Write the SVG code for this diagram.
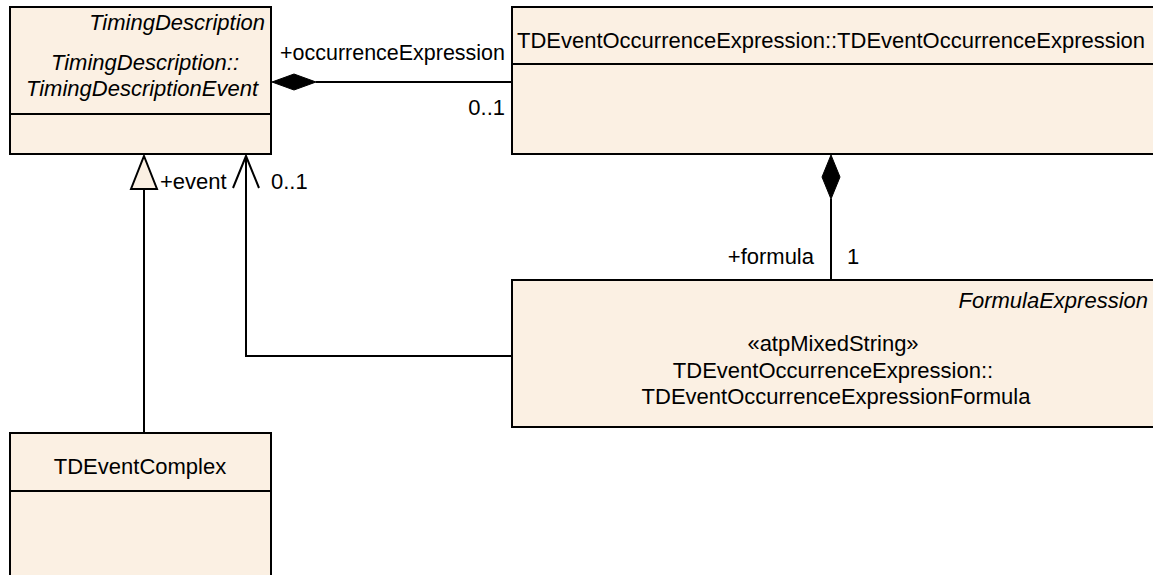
<svg xmlns="http://www.w3.org/2000/svg" width="1153" height="575" viewBox="0 0 1153 575">
<style>
.box{fill:#fbf0e3;stroke:#000;stroke-width:2}
.ln{fill:none;stroke:#000;stroke-width:2}
text{font-family:"Liberation Sans",Arial,sans-serif;font-size:22px;fill:#000}
.it{font-style:italic}
.c{text-anchor:middle}
.r{text-anchor:end}
</style>
<rect width="1153" height="575" fill="#fff"/>
<g id="TimingDescriptionEvent">
<rect class="box" x="10" y="7" width="261" height="147"/>
<line class="ln" x1="10" y1="114" x2="271" y2="114"/>
<text class="it r" x="265" y="30">TimingDescription</text>
<text class="it c" x="145" y="70">TimingDescription::</text>
<text class="it c" x="142" y="96">TimingDescriptionEvent</text>
</g>
<g id="TDEventOccurrenceExpression">
<rect class="box" x="512" y="7" width="645" height="147"/>
<line class="ln" x1="512" y1="64" x2="1153" y2="64"/>
<text x="517" y="48" textLength="628" lengthAdjust="spacingAndGlyphs">TDEventOccurrenceExpression::TDEventOccurrenceExpression</text>
</g>
<g id="FormulaExpression">
<rect class="box" x="512" y="280" width="645" height="147"/>
<text class="it r" x="1148" y="308">FormulaExpression</text>
<text class="c" x="833" y="351">«atpMixedString»</text>
<text class="c" x="833" y="378">TDEventOccurrenceExpression::</text>
<text class="c" x="836" y="404">TDEventOccurrenceExpressionFormula</text>
</g>
<g id="TDEventComplex">
<rect class="box" x="10" y="433" width="261" height="150"/>
<line class="ln" x1="10" y1="491" x2="271" y2="491"/>
<text class="c" x="140" y="474">TDEventComplex</text>
</g>
<g id="connectors">
<line class="ln" x1="316" y1="82" x2="512" y2="82"/>
<polygon points="272,82 294,74 316,82 294,90" fill="#000" stroke="#000" stroke-width="1"/>
<line class="ln" x1="831" y1="199" x2="831" y2="280"/>
<polygon points="831,155 840,177 831,199 822,177" fill="#000" stroke="#000" stroke-width="1"/>
<line class="ln" x1="144" y1="189" x2="144" y2="433"/>
<polygon points="144,156 157,189 131,189" fill="#fbf0e3" stroke="#000" stroke-width="2"/>
<polyline class="ln" points="512,356 246,356 246,156"/>
<polyline class="ln" points="233,188 246,156 259,188"/>
<text x="280" y="60" textLength="225" lengthAdjust="spacingAndGlyphs">+occurrenceExpression</text>
<text class="r" x="505" y="115">0..1</text>
<text x="160" y="189">+event</text>
<text x="271" y="189">0..1</text>
<text class="r" x="814" y="264">+formula</text>
<text x="847" y="264">1</text>
</g>
</svg>
